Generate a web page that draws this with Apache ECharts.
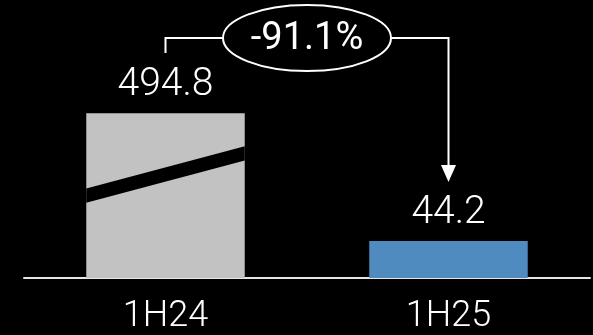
<!DOCTYPE html>
<html>
<head>
<meta charset="utf-8">
<script src="https://cdn.jsdelivr.net/npm/echarts@6/dist/echarts.min.js"></script>
<style>
  html, body { margin: 0; padding: 0; background: #000; }
  #chart { width: 593px; height: 335px; }
</style>
</head>
<body>
<div id="chart"></div>
<script>
// Half-year figures
const categories = ['1H24', '1H25'];
const values = [494.8, 44.2];
const barColors = ['#c2c2c2', '#508bc0'];
// Value range folded out of the axis (drawn as a diagonal cut through the tall bar)
const axisBreak = { start: 115, end: 430 };

const changePct = (values[1] / values[0] - 1) * 100;
const changeText = (changePct < 0 ? '-' : '+') + Math.abs(changePct).toFixed(1) + '%';

const FONT = 'Roboto, "Liberation Sans", sans-serif';
const chart = echarts.init(document.getElementById('chart'), null, { renderer: 'canvas' });

chart.setOption({
  backgroundColor: '#000',
  animation: false,
  grid: { left: 24, right: 3, top: 92, bottom: 57 },
  xAxis: {
    type: 'category',
    data: categories,
    axisLine: { show: true, lineStyle: { color: '#e6e6e6', width: 2 } },
    axisTick: { show: false },
    axisLabel: {
      color: '#fff', fontSize: 36, fontFamily: FONT, fontWeight: 300, margin: 21
    }
  },
  yAxis: {
    type: 'value',
    min: 0,
    max: 520,
    show: false,
    splitLine: { show: false },
    breaks: [{ start: axisBreak.start, end: axisBreak.end, gap: '7.6%' }],
    breakArea: { show: false }
  },
  series: [
    {
      type: 'bar',
      data: values.map((v, i) => ({ value: v, itemStyle: { color: barColors[i] } })),
      barWidth: '56%',
      label: {
        show: true, position: 'top', distance: 8,
        color: '#fff', fontSize: 39, fontFamily: FONT, fontWeight: 300,
        formatter: p => p.value.toFixed(1)
      }
    },
    {
      // diagonal cut across any bar that runs through the folded range
      type: 'custom',
      z: 5,
      silent: true,
      data: values.map((v, i) => [i, v]),
      renderItem: (params, api) => {
        if (api.value(1) <= axisBreak.end) return null;
        const cx = api.coord([api.value(0), 0])[0];
        const w = api.size([1, 0])[0] * 0.56;
        const yLo = api.coord([api.value(0), axisBreak.start])[1];
        const yHi = api.coord([api.value(0), axisBreak.end])[1];
        const tilt = w * 0.133;
        return {
          type: 'polygon',
          shape: { points: [
            [cx - w / 2, yLo + tilt], [cx + w / 2, yLo - tilt],
            [cx + w / 2, yHi - tilt], [cx - w / 2, yHi + tilt]
          ] },
          style: { fill: '#000' }
        };
      }
    }
  ]
});

// Change callout: bracket from the first bar, ellipse with the percentage, arrow to the second bar
const x1 = chart.convertToPixel({ xAxisIndex: 0 }, categories[0]);
const x2 = chart.convertToPixel({ xAxisIndex: 0 }, categories[1]);
const midX = (x1 + x2) / 2;
const lineY = 38, rx = 84, ry = 33;
const stroke = { stroke: '#fff', lineWidth: 2, fill: null };

chart.setOption({
  graphic: [
    { type: 'polyline', shape: { points: [[x1, 53], [x1, lineY], [midX - rx, lineY]] }, style: stroke },
    { type: 'polyline', shape: { points: [[midX + rx, lineY], [x2, lineY], [x2, 167]] }, style: stroke },
    { type: 'polygon', shape: { points: [[x2 - 7.5, 165], [x2 + 7.5, 165], [x2, 182]] }, style: { fill: '#fff' } },
    { type: 'ellipse', shape: { cx: midX, cy: lineY, rx: rx, ry: ry }, style: stroke },
    {
      type: 'text', x: midX, y: lineY + 1,
      style: {
        text: changeText, fill: '#fff', fontSize: 38, fontFamily: FONT,
        align: 'center', verticalAlign: 'middle'
      }
    }
  ]
});
</script>
</body>
</html>
